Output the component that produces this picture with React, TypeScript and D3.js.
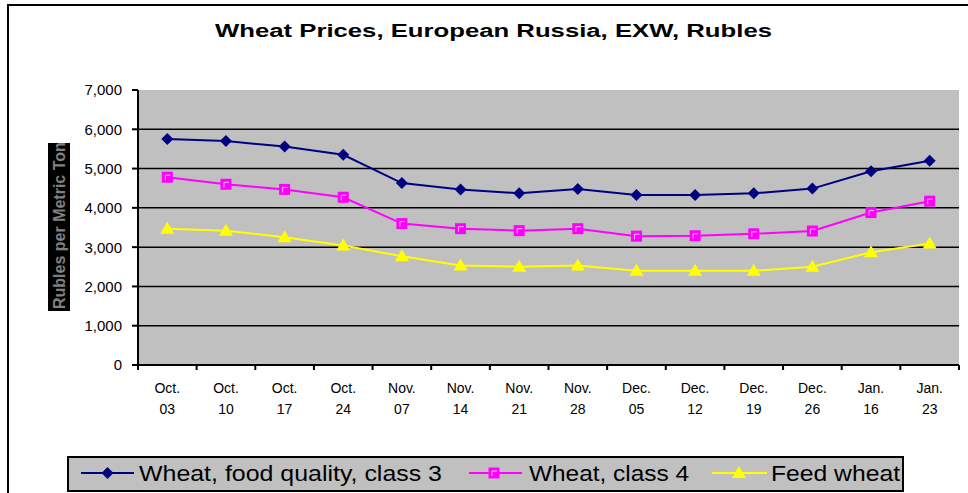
import React from 'react';
import * as d3 from 'd3';

const months = ['Oct.', 'Oct.', 'Oct.', 'Oct.', 'Nov.', 'Nov.', 'Nov.', 'Nov.', 'Dec.', 'Dec.', 'Dec.', 'Dec.', 'Jan.', 'Jan.'];
const days = ['03', '10', '17', '24', '07', '14', '21', '28', '05', '12', '19', '26', '16', '23'];
const foodClass3 = [5750, 5700, 5560, 5350, 4630, 4470, 4370, 4480, 4330, 4330, 4370, 4490, 4930, 5200];
const class4 = [4780, 4600, 4470, 4270, 3600, 3470, 3420, 3470, 3280, 3290, 3340, 3410, 3880, 4170];
const feedWheat = [3470, 3420, 3250, 3040, 2770, 2530, 2500, 2530, 2400, 2400, 2400, 2500, 2870, 3090];
const yTicks = [0, 1000, 2000, 3000, 4000, 5000, 6000, 7000];
const seriesNames = ['Wheat, food quality, class 3', 'Wheat, class 4', 'Feed wheat'];

const W = 968;
const H = 493;
const plot = { left: 138, right: 959, top: 90, bottom: 365 };

const App: React.FC = () => {
  const idx = months.map((_, i) => String(i));
  const x = d3.scaleBand<string>().domain(idx).range([plot.left, plot.right]);
  const y = d3.scaleLinear().domain([0, 7000]).range([plot.bottom, plot.top]);
  const cx = (i: number) => (x(String(i)) as number) + x.bandwidth() / 2;

  const line = d3
    .line<number>()
    .x((_, i) => cx(i))
    .y((d) => y(d));

  const fmt = d3.format(',');

  const diamond = (px: number, py: number, key: string | number) => (
    <path key={key} d={`M${px},${py - 6}L${px + 6},${py}L${px},${py + 6}L${px - 6},${py}Z`} fill="#000080" />
  );
  const square = (px: number, py: number, key: string | number) => (
    <g key={key}>
      <rect x={px - 5.5} y={py - 5.5} width={11} height={11} fill="#ff00ff" />
      <path d={`M${px - 2},${py + 3}V${py - 2}H${px + 3}`} fill="none" stroke="#ffc8ff" strokeWidth={1} />
    </g>
  );
  const triangle = (px: number, py: number, key: string | number) => (
    <path key={key} d={`M${px},${py - 7}L${px + 7},${py + 5}L${px - 7},${py + 5}Z`} fill="#ffff00" />
  );

  const series = [
    { data: foodClass3, color: '#000080', marker: diamond },
    { data: class4, color: '#ff00ff', marker: square },
    { data: feedWheat, color: '#ffff00', marker: triangle },
  ];

  const legendItems = [
    { x0: 81, x1: 134, mx: 107.5, tx: 139, tl: 303 },
    { x0: 469, x1: 522, mx: 494, tx: 529, tl: 160 },
    { x0: 712, x1: 767, mx: 739, tx: 771, tl: 129 },
  ];
  const legendY = 473;

  return (
    <svg
      width={W}
      height={H}
      style={{ position: 'absolute', left: 0, top: 0, background: '#fff' }}
      fontFamily="Arial, 'Liberation Sans', sans-serif"
    >
      <defs>
        <clipPath id="ytitle">
          <rect x={48} y={143} width={22} height={168} />
        </clipPath>
      </defs>

      {/* outer frame */}
      <rect x={8} y={5} width={1000} height={600} fill="none" stroke="#000" strokeWidth={2} />

      {/* title */}
      <text x={493.5} y={37} textAnchor="middle" fontSize={18} fontWeight="bold" textLength={557} lengthAdjust="spacingAndGlyphs">
        Wheat Prices, European Russia, EXW, Rubles
      </text>

      {/* plot background */}
      <rect x={plot.left} y={plot.top} width={plot.right - plot.left} height={plot.bottom - plot.top} fill="#c0c0c0" />

      {/* gridlines */}
      {yTicks.filter((t) => t > 0 && t < 7000).map((t) => (
        <line key={t} x1={plot.left} x2={plot.right} y1={y(t)} y2={y(t)} stroke="#000" strokeWidth={1.5} />
      ))}

      {/* y axis */}
      <line x1={plot.left} x2={plot.left} y1={plot.top} y2={plot.bottom + 1} stroke="#000" strokeWidth={2} />
      {yTicks.map((t) => (
        <g key={t}>
          <line x1={plot.left - 6} x2={plot.left} y1={y(t)} y2={y(t)} stroke="#000" strokeWidth={2} />
          <text x={122} y={y(t)} dy="0.36em" textAnchor="end" fontSize={15}>
            {fmt(t)}
          </text>
        </g>
      ))}

      {/* x axis */}
      <line x1={plot.left - 1} x2={plot.right} y1={plot.bottom} y2={plot.bottom} stroke="#000" strokeWidth={2} />
      {idx.map((d) => (
        <line key={'t' + d} x1={x(d)} x2={x(d)} y1={plot.bottom} y2={plot.bottom + 5} stroke="#000" strokeWidth={2} />
      ))}
      <line x1={plot.right} x2={plot.right} y1={plot.bottom} y2={plot.bottom + 5} stroke="#000" strokeWidth={2} />
      {idx.map((d, i) => (
        <text key={'l' + d} x={cx(i)} textAnchor="middle" fontSize={14}>
          <tspan x={cx(i)} y={393}>{months[i]}</tspan>
          <tspan x={cx(i)} y={414}>{days[i]}</tspan>
        </text>
      ))}

      {/* series */}
      {series.map((s, si) => (
        <g key={si}>
          <path d={line(s.data) as string} fill="none" stroke={s.color} strokeWidth={2} />
          {s.data.map((v, i) => s.marker(cx(i), y(v), i))}
        </g>
      ))}

      {/* y axis title */}
      <rect x={48} y={143} width={22} height={168} fill="#000" />
      <g clipPath="url(#ytitle)">
        <text transform="translate(65,309) rotate(-90)" fontSize={16} fontWeight="bold" fill="#808080">
          Rubles per Metric Ton
        </text>
      </g>

      {/* legend */}
      <rect x={68} y={457} width={835} height={34} fill="#c0c0c0" stroke="#000" strokeWidth={2} />
      {legendItems.map((it, i) => (
        <g key={i}>
          <line x1={it.x0} x2={it.x1} y1={legendY} y2={legendY} stroke={series[i].color} strokeWidth={2} />
          {series[i].marker(it.mx, legendY, 'm' + i)}
          <text x={it.tx} y={legendY} dy="0.36em" fontSize={22} textLength={it.tl} lengthAdjust="spacingAndGlyphs">
            {seriesNames[i]}
          </text>
        </g>
      ))}
    </svg>
  );
};

export default App;
